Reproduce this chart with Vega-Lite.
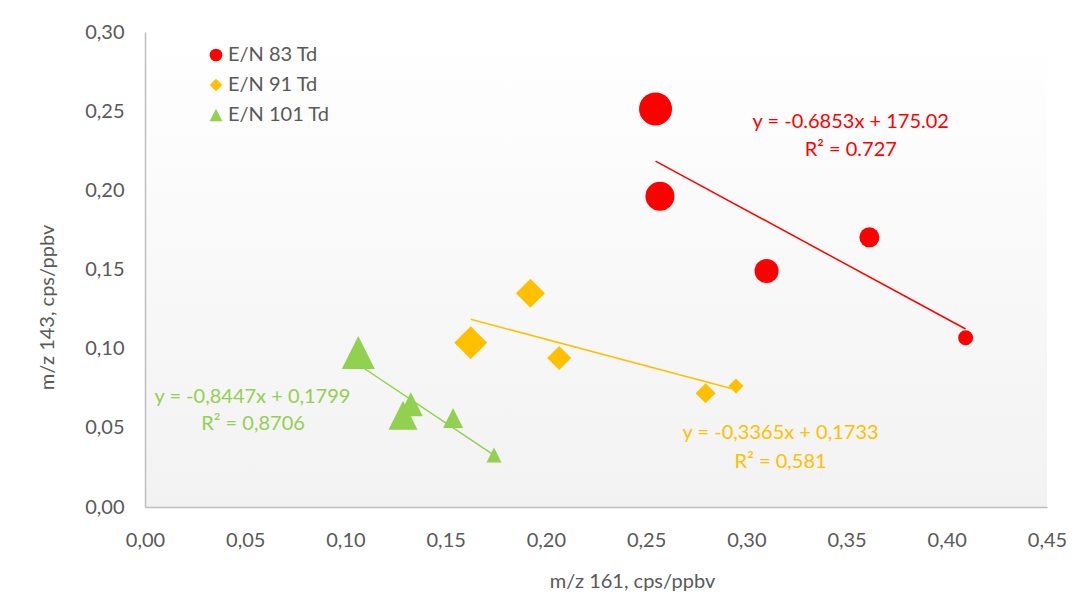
{
  "$schema": "https://vega.github.io/schema/vega-lite/v6.json",
  "width": 902,
  "height": 475,
  "autosize": {"type": "none"},
  "padding": {"left": 145, "top": 32, "right": 26, "bottom": 92},
  "background": "white",
  "config": {
    "font": "Lato",
    "view": {
      "stroke": null,
      "fill": {
        "gradient": "linear",
        "x1": 0, "y1": 0, "x2": 0, "y2": 1,
        "stops": [
          {"offset": 0, "color": "#ffffff"},
          {"offset": 1, "color": "#f2f2f2"}
        ]
      }
    },
    "axis": {
      "grid": false,
      "ticks": false,
      "tickSize": 0,
      "domainColor": "#bfbfbf",
      "domainWidth": 1.5,
      "labelFontSize": 20,
      "labelColor": "#595959",
      "labelFlush": false,
      "labelOverlap": false,
      "titleFontSize": 20,
      "titleFontWeight": "normal",
      "titleColor": "#595959",
      "titleBaseline": "alphabetic",
      "titleAlign": "center"
    },
    "text": {"fontSize": 20, "baseline": "middle", "align": "center"},
    "line": {"strokeWidth": 1.5}
  },
  "datasets": {
    "points": [
      {"series": "E/N 83 Td", "sample": 1, "x": 0.2547, "y": 0.2514},
      {"series": "E/N 83 Td", "sample": 2, "x": 0.2569, "y": 0.1962},
      {"series": "E/N 83 Td", "sample": 3, "x": 0.3101, "y": 0.1491},
      {"series": "E/N 83 Td", "sample": 4, "x": 0.3614, "y": 0.1703},
      {"series": "E/N 83 Td", "sample": 5, "x": 0.4094, "y": 0.1069},
      {"series": "E/N 91 Td", "sample": 1, "x": 0.1625, "y": 0.1038},
      {"series": "E/N 91 Td", "sample": 2, "x": 0.1923, "y": 0.1350},
      {"series": "E/N 91 Td", "sample": 3, "x": 0.2066, "y": 0.0941},
      {"series": "E/N 91 Td", "sample": 4, "x": 0.2797, "y": 0.0718},
      {"series": "E/N 91 Td", "sample": 5, "x": 0.2948, "y": 0.0764},
      {"series": "E/N 101 Td", "sample": 1, "x": 0.1064, "y": 0.0976},
      {"series": "E/N 101 Td", "sample": 2, "x": 0.1287, "y": 0.0579},
      {"series": "E/N 101 Td", "sample": 3, "x": 0.1326, "y": 0.0649},
      {"series": "E/N 101 Td", "sample": 4, "x": 0.1537, "y": 0.0562},
      {"series": "E/N 101 Td", "sample": 5, "x": 0.1741, "y": 0.0328}
    ],
    "trend": [
      {"series": "E/N 83 Td", "x": 0.2547, "y": 0.2185},
      {"series": "E/N 83 Td", "x": 0.4094, "y": 0.1124},
      {"series": "E/N 91 Td", "x": 0.1625, "y": 0.1186},
      {"series": "E/N 91 Td", "x": 0.2948, "y": 0.0741},
      {"series": "E/N 101 Td", "x": 0.1064, "y": 0.0900},
      {"series": "E/N 101 Td", "x": 0.1741, "y": 0.0328}
    ],
    "notes": [
      {"series": "E/N 83 Td", "x": 0.3521, "y": 0.2434, "label": "y = -0.6853x + 175.02"},
      {"series": "E/N 83 Td", "x": 0.3521, "y": 0.2255, "label": "R² = 0.727"},
      {"series": "E/N 91 Td", "x": 0.3171, "y": 0.0465, "label": "y = -0,3365x + 0,1733"},
      {"series": "E/N 91 Td", "x": 0.3171, "y": 0.0286, "label": "R² = 0,581"},
      {"series": "E/N 101 Td", "x": 0.0536, "y": 0.0697, "label": "y = -0,8447x + 0,1799"},
      {"series": "E/N 101 Td", "x": 0.0539, "y": 0.0524, "label": "R² = 0,8706"}
    ]
  },
  "encoding": {
    "x": {
      "field": "x",
      "type": "quantitative",
      "scale": {"domain": [0, 0.45], "nice": false, "zero": false},
      "axis": {
        "values": [0, 0.05, 0.1, 0.15, 0.2, 0.25, 0.3, 0.35, 0.4, 0.45],
        "labelExpr": "replace(format(datum.value, '.2f'), '.', ',')",
        "labelPadding": 23,
        "title": "m/z 161, cps/ppbv",
        "titleX": 487,
        "titleY": 80
      }
    },
    "y": {
      "field": "y",
      "type": "quantitative",
      "scale": {"domain": [0, 0.3], "nice": false, "zero": false},
      "axis": {
        "values": [0, 0.05, 0.1, 0.15, 0.2, 0.25, 0.3],
        "labelExpr": "replace(format(datum.value, '.2f'), '.', ',')",
        "labelPadding": 21,
        "title": "m/z 143, cps/ppbv",
        "titleAngle": 270,
        "titleX": -92,
        "titleY": 275
      }
    }
  },
  "layer": [
    {
      "data": {"name": "trend"},
      "transform": [{"filter": "datum.series === 'E/N 83 Td'"}],
      "mark": {"type": "line", "color": "#ff0000"}
    },
    {
      "data": {"name": "trend"},
      "transform": [{"filter": "datum.series === 'E/N 91 Td'"}],
      "mark": {"type": "line", "color": "#ffc000"}
    },
    {
      "data": {"name": "trend"},
      "transform": [{"filter": "datum.series === 'E/N 101 Td'"}],
      "mark": {"type": "line", "color": "#92d050"}
    },
    {
      "data": {"name": "points"},
      "mark": {"type": "point", "filled": true, "opacity": 1, "strokeWidth": 0},
      "encoding": {
        "color": {
          "field": "series",
          "type": "nominal",
          "scale": {"domain": ["E/N 83 Td", "E/N 91 Td", "E/N 101 Td"], "range": ["#ff0000", "#ffc000", "#92d050"]},
          "legend": {
            "orient": "none",
            "legendX": 61,
            "legendY": 13,
            "title": null,
            "padding": 0,
            "labelFontSize": 20,
            "labelColor": "#595959",
            "labelOffset": 2,
            "symbolSize": 161,
            "symbolStrokeWidth": 0,
            "rowPadding": 10
          }
        },
        "shape": {
          "field": "series",
          "type": "nominal",
          "scale": {"domain": ["E/N 83 Td", "E/N 91 Td", "E/N 101 Td"], "range": ["circle", "diamond", "M0,-1L1,1L-1,1Z"]}
        },
        "size": {
          "field": "sample",
          "type": "quantitative",
          "scale": {"type": "linear", "domain": [1, 2, 3, 4, 5], "range": [1089, 841, 576, 400, 225]},
          "legend": null
        }
      }
    },
    {
      "data": {"name": "notes"},
      "transform": [{"filter": "datum.series === 'E/N 83 Td'"}],
      "mark": {"type": "text", "color": "#ff0000"},
      "encoding": {"text": {"field": "label"}}
    },
    {
      "data": {"name": "notes"},
      "transform": [{"filter": "datum.series === 'E/N 91 Td'"}],
      "mark": {"type": "text", "color": "#ffc000"},
      "encoding": {"text": {"field": "label"}}
    },
    {
      "data": {"name": "notes"},
      "transform": [{"filter": "datum.series === 'E/N 101 Td'"}],
      "mark": {"type": "text", "color": "#92d050"},
      "encoding": {"text": {"field": "label"}}
    }
  ]
}
